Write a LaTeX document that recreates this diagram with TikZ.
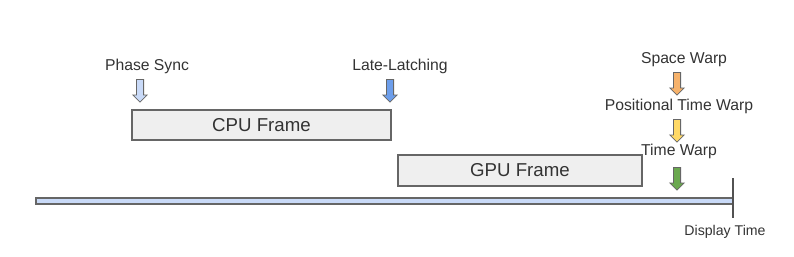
\documentclass[tikz,border=0pt]{standalone}
\usepackage{fontspec}
\setmainfont{Liberation Sans}
\usetikzlibrary{shapes.arrows,positioning}
\definecolor{ink}{HTML}{333333}
\definecolor{edge}{HTML}{666666}
\definecolor{frame}{HTML}{EFEFEF}
\definecolor{sky}{HTML}{C9DAF8}
\definecolor{blue}{HTML}{6D9EEB}
\definecolor{peach}{HTML}{F6B26B}
\definecolor{butter}{HTML}{FFD966}
\definecolor{leaf}{HTML}{6AA84F}
\tikzset{
  framebox/.style={rectangle, draw=edge, fill=frame, line width=0.8pt,
              font=\fontsize{14}{16}\selectfont, text=ink, inner sep=0pt},
  cue/.style={single arrow, shape border rotate=270, draw=edge, line width=0.6pt,
              minimum height=17pt, inner sep=2.4pt, single arrow head extend=2.6pt},
  lbl/.style={font=\fontsize{11.8}{13}\selectfont, text=ink, inner sep=1pt},
  axisbar/.style={draw=edge, fill=sky, line width=0.9pt},
}

\begin{document}
\begin{tikzpicture}[x=0.75pt, y=-0.75pt]
\useasboundingbox (0,0) rectangle (794,257);

% --- frames ---------------------------------------------------------------
\node[framebox, minimum width=194.25pt, minimum height=22.5pt] (cpu) at (261.5,125) {CPU Frame};
\node[framebox, minimum width=183pt, minimum height=23.25pt] (gpu) at (520,170.5) {GPU Frame};

% --- cues above the CPU frame ---------------------------------------------
\node[cue, fill=sky] (sync) at (140,89) {};
\node[lbl] (synclbl) at (147,66) {Phase Sync};
\node[cue, fill=blue] (latch) at (390,89) {};
\node[lbl] (latchlbl) at (400,66) {Late-Latching};

% --- warp stack -----------------------------------------------------------
\node[cue, fill=peach] (space) at (677,82) {};
\node[lbl] (spacelbl) at (684,60) {Space Warp};
\node[cue, fill=butter] (ptw) at (677,129) {};
\node[lbl] (ptwlbl) at (679,106) {Positional Time Warp};
\node[cue, fill=leaf] (tw) at (677,177) {};
\node[lbl] (twlbl) at (679,151) {Time Warp};

% --- timeline -------------------------------------------------------------
\draw[axisbar] (36,198) rectangle (733,204);
\coordinate (tick top) at (733,178);
\coordinate (tick bot) at (733,218);
\draw[edge!80!black, line width=1.8pt] (tick top) -- (tick bot);
\node[lbl, font=\fontsize{10.6}{12}\selectfont] (disp) at (725,232) {Display Time};
\end{tikzpicture}
\end{document}
